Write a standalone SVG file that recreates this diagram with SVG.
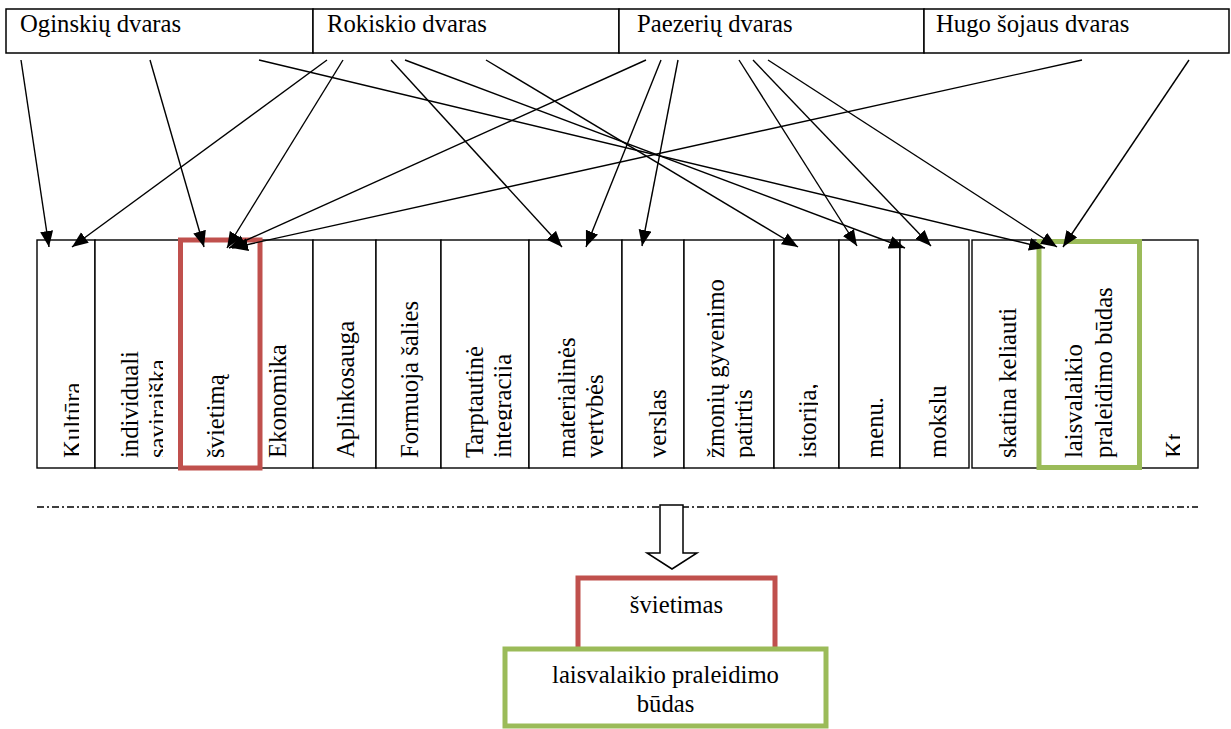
<svg xmlns="http://www.w3.org/2000/svg" width="1231" height="729" viewBox="0 0 1231 729" font-family="Liberation Serif, DejaVu Serif, serif">
<style>
text{font-family:'Liberation Serif','DejaVu Serif',serif;font-size:24.7px;fill:#000}
.box{fill:#fff;stroke:#000;stroke-width:1.5}
.cell{fill:#fff;stroke:#000;stroke-width:1.4}
.red{fill:none;stroke:#C0504D;stroke-width:5}
.green{fill:none;stroke:#9BBB59;stroke-width:5}
.conn line{stroke:#000;stroke-width:1.4;marker-end:url(#ah)}
.mid{text-anchor:middle}
</style>
<defs>
<marker id="ah" markerUnits="userSpaceOnUse" markerWidth="17" markerHeight="14" refX="16" refY="6.5" orient="auto">
<path d="M0,0 L16,6.5 L0,13 z" fill="#000"/>
</marker>
<clipPath id="c1"><rect x="37" y="240" width="42" height="228"/></clipPath>
<clipPath id="c2"><rect x="95" y="240" width="68" height="228"/></clipPath>
<clipPath id="c7"><rect x="441" y="240" width="71" height="228"/></clipPath>
<clipPath id="c8"><rect x="529" y="240" width="75" height="228"/></clipPath>
<clipPath id="c10"><rect x="684" y="240" width="71" height="228"/></clipPath>
<clipPath id="c11"><rect x="774" y="240" width="44" height="228"/></clipPath>
<clipPath id="c16"><rect x="1141" y="240" width="39" height="228"/></clipPath>
</defs>

<g id="n-oginskiu"><rect class="box" x="6" y="9" width="307" height="44"/><text x="20" y="32">Oginskių dvaras</text></g>
<g id="n-rokiskio"><rect class="box" x="313" y="9" width="306" height="44"/><text x="327" y="32">Rokiskio dvaras</text></g>
<g id="n-paezeriu"><rect class="box" x="619" y="9" width="305" height="44"/><text x="637" y="32">Paezerių dvaras</text></g>
<g id="n-hugo"><rect class="box" x="924" y="9" width="305" height="44"/><text x="936" y="32">Hugo šojaus dvaras</text></g>

<g id="c-kultura"><rect class="cell" x="37" y="240" width="58" height="228"/><g clip-path="url(#c1)"><text transform="translate(81,458) rotate(-90)">Kultūra</text></g></g>
<g id="c-individuali"><rect class="cell" x="95" y="240" width="85" height="228"/><g clip-path="url(#c2)"><text transform="translate(138,458) rotate(-90)">individuali</text><text transform="translate(166,458) rotate(-90)">saviraiška</text></g></g>
<g id="c-svietima"><rect class="cell" x="180" y="240" width="80" height="228"/><text transform="translate(224,458) rotate(-90)">švietimą</text></g>
<g id="c-ekonomika"><rect class="cell" x="260" y="240" width="53" height="228"/><text transform="translate(286,458) rotate(-90)">Ekonomika</text></g>
<g id="c-aplinkosauga"><rect class="cell" x="313" y="240" width="63" height="228"/><text transform="translate(354,458) rotate(-90)">Aplinkosauga</text></g>
<g id="c-formuoja"><rect class="cell" x="376" y="240" width="65" height="228"/><text transform="translate(418,458) rotate(-90)">Formuoja šalies</text></g>
<g id="c-tarptautine"><rect class="cell" x="441" y="240" width="88" height="228"/><g clip-path="url(#c7)"><text transform="translate(483,458) rotate(-90)">Tarptautinė</text><text transform="translate(511,458) rotate(-90)">integracija</text></g></g>
<g id="c-materialines"><rect class="cell" x="529" y="240" width="93" height="228"/><g clip-path="url(#c8)"><text transform="translate(575,458) rotate(-90)">materialinės</text><text transform="translate(603,458) rotate(-90)">vertybės</text></g></g>
<g id="c-verslas"><rect class="cell" x="622" y="240" width="62" height="228"/><text transform="translate(666,458) rotate(-90)">verslas</text></g>
<g id="c-zmoniu"><rect class="cell" x="684" y="240" width="90" height="228"/><g clip-path="url(#c10)"><text transform="translate(724,458) rotate(-90)">žmonių gyvenimo</text><text transform="translate(752,458) rotate(-90)">patirtis</text></g></g>
<g id="c-istorija"><rect class="cell" x="774" y="240" width="65" height="228"/><g clip-path="url(#c11)"><text transform="translate(816,458) rotate(-90)">istorija,</text></g></g>
<g id="c-menu"><rect class="cell" x="839" y="240" width="61" height="228"/><text transform="translate(883,458) rotate(-90)">menu.</text></g>
<g id="c-mokslu"><rect class="cell" x="900" y="240" width="69" height="228"/><text transform="translate(946,458) rotate(-90)">mokslu</text></g>
<g id="c-skatina"><rect class="cell" x="972" y="240" width="67" height="228"/><text transform="translate(1016,458) rotate(-90)">skatina keliauti</text></g>
<g id="c-laisvalaikio"><rect class="cell" x="1039" y="240" width="102" height="228"/><text transform="translate(1082,458) rotate(-90)">laisvalaikio</text><text transform="translate(1112,458) rotate(-90)">praleidimo būdas</text></g>
<g id="c-kt"><rect class="cell" x="1141" y="240" width="57" height="228"/><g clip-path="url(#c16)"><text transform="translate(1183,458) rotate(-90)">Kt</text></g></g>

<rect id="hl-svietima" class="red" x="180.5" y="240" width="79.5" height="228"/>
<rect id="hl-laisvalaikio" class="green" x="1039" y="241.5" width="100.5" height="226"/>

<g id="connectors" class="conn">
<line x1="21" y1="60" x2="49" y2="247"/>
<line x1="150" y1="60" x2="204" y2="247"/>
<line x1="259" y1="60" x2="1045" y2="248"/>
<line x1="327" y1="60" x2="72" y2="247"/>
<line x1="343" y1="60" x2="227" y2="248"/>
<line x1="391" y1="60" x2="562" y2="247"/>
<line x1="405" y1="60" x2="905" y2="248"/>
<line x1="486" y1="60" x2="798" y2="247"/>
<line x1="646" y1="60" x2="229" y2="248"/>
<line x1="661" y1="60" x2="586" y2="247"/>
<line x1="678" y1="60" x2="642" y2="246"/>
<line x1="739" y1="60" x2="857" y2="246"/>
<line x1="753" y1="60" x2="931" y2="246"/>
<line x1="768" y1="60" x2="1057" y2="247"/>
<line x1="1082" y1="60" x2="232" y2="248"/>
<line x1="1189" y1="60" x2="1063" y2="247"/>
</g>

<line id="separator" x1="37" y1="507" x2="1198" y2="507" stroke="#000" stroke-width="1.4" stroke-dasharray="7 3 2 3"/>
<polygon id="block-arrow" points="660,505 683,505 683,553 697,553 672,569 647,553 660,553" fill="#fff" stroke="#000" stroke-width="1.5"/>

<g id="n-svietimas"><rect x="578" y="578" width="197" height="72" fill="#fff" stroke="#C0504D" stroke-width="5"/><text class="mid" x="676.5" y="613">švietimas</text></g>
<g id="n-laisvalaikio"><rect x="505" y="649" width="321" height="77" fill="#fff" stroke="#9BBB59" stroke-width="5"/><text class="mid" x="665.5" y="683">laisvalaikio praleidimo</text><text class="mid" x="665.5" y="712">būdas</text></g>
</svg>
